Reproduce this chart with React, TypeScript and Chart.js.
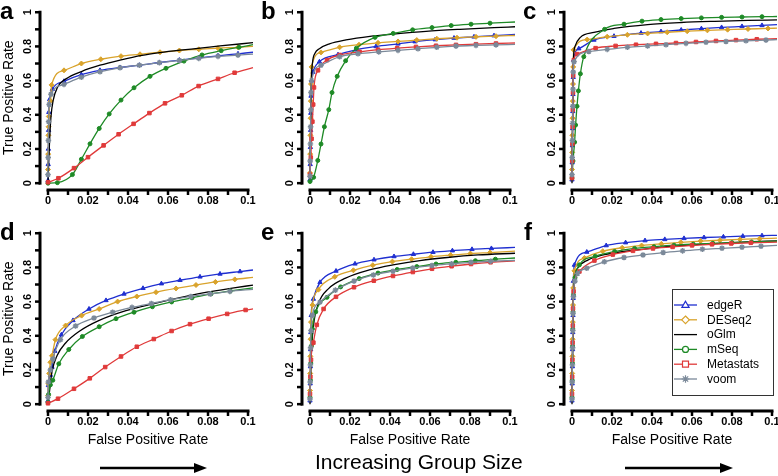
import React, { useEffect, useRef } from 'react';
import { Chart, registerables } from 'chart.js';
Chart.register(...registerables);

// ---------- labels / ticks ----------
const METHODS = ['edgeR', 'DESeq2', 'oGlm', 'mSeq', 'Metastats', 'voom'];
const PANEL_LETTERS = ['a', 'b', 'c', 'd', 'e', 'f'];
const X_TICK_VALUES = [0, 0.01, 0.02, 0.03, 0.04, 0.05, 0.06, 0.07, 0.08, 0.09, 0.1];
const X_LABEL_VALUES = [0, 0.02, 0.04, 0.06, 0.08, 0.1];
const X_LABELS = ['0', '0.02', '0.04', '0.06', '0.08', '0.1'];
const Y_TICK_VALUES = [0, 0.1, 0.2, 0.3, 0.4, 0.5, 0.6, 0.7, 0.8, 0.9, 1];
const Y_LABEL_VALUES = [0, 0.2, 0.4, 0.6, 0.8, 1];
const Y_LABELS = ['0', '0.2', '0.4', '0.6', '0.8', '1'];
const X_TITLE = 'False Positive Rate';
const Y_TITLE = 'True Positive Rate';
const BOTTOM_TEXT = 'Increasing Group Size';

// ---------- data: [FPR, TPR] ----------
// panel a
const A_EDGER = [[0,0.015],[0.0001,0.11],[0.0002,0.2],[0.0003,0.31],[0.0004,0.415],[0.0008,0.49],[0.0022,0.55],[0.008,0.596],[0.0167,0.635],[0.026,0.66],[0.036,0.677],[0.0457,0.69],[0.0557,0.706],[0.0657,0.72],[0.0754,0.733],[0.085,0.745],[0.095,0.757],[0.1025,0.766]];
const A_DESEQ2 = [[0,0.08],[0.0001,0.17],[0.0002,0.28],[0.0003,0.33],[0.0004,0.39],[0.0013,0.48],[0.0018,0.575],[0.008,0.66],[0.0167,0.7],[0.0264,0.725],[0.0365,0.743],[0.046,0.754],[0.056,0.766],[0.0657,0.776],[0.0754,0.783],[0.085,0.79],[0.095,0.795],[0.1025,0.8]];
const A_OGLM = [[0,0],[0.0003,0.1],[0.0008,0.25],[0.0015,0.39],[0.0025,0.48],[0.0047,0.56],[0.009,0.61],[0.0167,0.653],[0.026,0.69],[0.036,0.72],[0.047,0.748],[0.056,0.764],[0.066,0.778],[0.076,0.79],[0.086,0.803],[0.1025,0.822]];
const A_MSEQ = [[0,0],[0.0047,0.003],[0.0122,0.05],[0.0167,0.14],[0.021,0.23],[0.0256,0.32],[0.0306,0.405],[0.0365,0.486],[0.043,0.558],[0.051,0.625],[0.059,0.672],[0.068,0.714],[0.077,0.75],[0.0866,0.775],[0.0955,0.795],[0.1025,0.81]];
const A_METASTATS = [[0,0.005],[0.0052,0.029],[0.013,0.088],[0.02,0.152],[0.0278,0.221],[0.0353,0.286],[0.0428,0.347],[0.0507,0.41],[0.0585,0.467],[0.0669,0.514],[0.0753,0.568],[0.085,0.61],[0.0933,0.646],[0.1025,0.676]];
const A_VOOM = [[0,0.05],[0.0001,0.15],[0.0002,0.25],[0.0003,0.36],[0.0006,0.46],[0.0015,0.52],[0.008,0.578],[0.0167,0.62],[0.026,0.652],[0.036,0.675],[0.0457,0.69],[0.0557,0.705],[0.0657,0.718],[0.0754,0.73],[0.085,0.742],[0.095,0.749],[0.1025,0.755]];
// panel b
const B_EDGER = [[0,0.02],[0.0001,0.11],[0.0002,0.21],[0.0003,0.31],[0.0004,0.41],[0.0005,0.51],[0.0008,0.6],[0.0015,0.65],[0.0047,0.71],[0.014,0.752],[0.023,0.78],[0.033,0.8],[0.044,0.815],[0.0525,0.828],[0.0626,0.84],[0.072,0.849],[0.082,0.856],[0.092,0.863],[0.1025,0.87]];
const B_DESEQ2 = [[0,0.06],[0.0001,0.17],[0.0002,0.28],[0.0003,0.38],[0.0004,0.48],[0.0005,0.58],[0.0008,0.68],[0.0055,0.765],[0.0148,0.795],[0.0245,0.81],[0.034,0.821],[0.044,0.829],[0.0534,0.837],[0.0634,0.845],[0.0735,0.851],[0.083,0.856],[0.093,0.86],[0.1025,0.864]];
const B_OGLM = [[0,0],[0.0003,0.3],[0.0007,0.6],[0.0012,0.7],[0.0025,0.76],[0.0047,0.787],[0.0097,0.815],[0.018,0.838],[0.03,0.859],[0.0416,0.872],[0.058,0.888],[0.075,0.9],[0.092,0.91],[0.1025,0.915]];
const B_MSEQ = [[0,0.01],[0.0018,0.034],[0.0039,0.133],[0.0055,0.229],[0.0072,0.33],[0.0094,0.43],[0.011,0.53],[0.0136,0.625],[0.0178,0.716],[0.0232,0.79],[0.0325,0.853],[0.0416,0.876],[0.0513,0.897],[0.061,0.91],[0.0706,0.922],[0.0805,0.93],[0.09,0.936],[0.1025,0.943]];
const B_METASTATS = [[0,0.05],[0.0004,0.15],[0.0008,0.26],[0.0012,0.36],[0.0016,0.46],[0.002,0.56],[0.004,0.66],[0.0085,0.72],[0.0148,0.75],[0.0248,0.768],[0.034,0.781],[0.0436,0.79],[0.053,0.797],[0.063,0.804],[0.073,0.809],[0.083,0.813],[0.093,0.817],[0.1025,0.82]];
const B_VOOM = [[0,0.04],[0.0001,0.13],[0.0002,0.23],[0.0003,0.33],[0.0004,0.43],[0.0005,0.53],[0.0008,0.6],[0.0055,0.69],[0.0148,0.74],[0.024,0.757],[0.0344,0.768],[0.044,0.777],[0.054,0.786],[0.0634,0.795],[0.073,0.802],[0.083,0.806],[0.093,0.809],[0.1025,0.812]];
// panel c
const C_EDGER = [[0,0.02],[0.0001,0.12],[0.0002,0.22],[0.0003,0.32],[0.0004,0.42],[0.0005,0.52],[0.0006,0.62],[0.0008,0.72],[0.0034,0.787],[0.011,0.838],[0.021,0.86],[0.0345,0.878],[0.0445,0.887],[0.0546,0.896],[0.0647,0.904],[0.0748,0.911],[0.085,0.917],[0.095,0.923],[0.1025,0.928]];
const C_DESEQ2 = [[0,0.08],[0.0001,0.18],[0.0002,0.28],[0.0003,0.38],[0.0004,0.48],[0.0005,0.58],[0.0006,0.68],[0.0008,0.78],[0.0076,0.84],[0.0176,0.857],[0.0277,0.868],[0.0378,0.876],[0.0476,0.883],[0.0576,0.889],[0.0677,0.894],[0.0778,0.898],[0.088,0.902],[0.098,0.905],[0.1025,0.907]];
const C_OGLM = [[0,0],[0.0003,0.4],[0.0007,0.72],[0.0015,0.8],[0.0042,0.853],[0.011,0.882],[0.021,0.905],[0.0378,0.928],[0.0546,0.94],[0.0714,0.947],[0.088,0.952],[0.1025,0.955]];
const C_MSEQ = [[0,0.03],[0.0005,0.13],[0.0013,0.24],[0.0018,0.34],[0.0025,0.45],[0.0032,0.54],[0.0042,0.64],[0.0059,0.74],[0.0163,0.9],[0.026,0.93],[0.035,0.948],[0.0445,0.957],[0.0546,0.963],[0.0647,0.967],[0.0748,0.97],[0.085,0.972],[0.095,0.974],[0.1025,0.975]];
const C_METASTATS = [[0,0.03],[0.0001,0.13],[0.0002,0.23],[0.0003,0.33],[0.0004,0.43],[0.0005,0.53],[0.0006,0.63],[0.0009,0.72],[0.0025,0.755],[0.0118,0.79],[0.0218,0.803],[0.032,0.81],[0.042,0.815],[0.052,0.82],[0.062,0.826],[0.072,0.832],[0.082,0.837],[0.0924,0.842],[0.1025,0.845]];
const C_VOOM = [[0,0.05],[0.0001,0.15],[0.0002,0.25],[0.0003,0.35],[0.0004,0.45],[0.0005,0.55],[0.0006,0.65],[0.001,0.71],[0.0084,0.77],[0.0176,0.783],[0.0277,0.795],[0.0378,0.803],[0.047,0.81],[0.057,0.818],[0.067,0.824],[0.077,0.829],[0.087,0.833],[0.097,0.837],[0.1025,0.84]];
// panel d
const D_EDGER = [[0,0.02],[0.0002,0.11],[0.0012,0.17],[0.002,0.217],[0.0034,0.31],[0.0067,0.406],[0.0125,0.49],[0.0205,0.557],[0.029,0.607],[0.038,0.645],[0.0475,0.678],[0.0567,0.705],[0.066,0.725],[0.076,0.745],[0.086,0.762],[0.096,0.776],[0.1025,0.785]];
const D_DESEQ2 = [[0,0.05],[0.0002,0.12],[0.0006,0.18],[0.0012,0.245],[0.002,0.283],[0.0037,0.377],[0.0088,0.46],[0.0168,0.518],[0.0256,0.557],[0.0348,0.6],[0.0444,0.63],[0.054,0.655],[0.064,0.677],[0.074,0.697],[0.0837,0.715],[0.0934,0.73],[0.1025,0.742]];
const D_OGLM = [[0,0],[0.001,0.1],[0.002,0.19],[0.0045,0.283],[0.0088,0.358],[0.0155,0.425],[0.0256,0.49],[0.039,0.547],[0.0525,0.587],[0.066,0.623],[0.0795,0.655],[0.093,0.68],[0.1025,0.697]];
const D_MSEQ = [[0,0.01],[0.0003,0.057],[0.0012,0.113],[0.0024,0.14],[0.0054,0.236],[0.0104,0.32],[0.0172,0.396],[0.0256,0.453],[0.034,0.5],[0.043,0.538],[0.0522,0.57],[0.0618,0.598],[0.072,0.622],[0.0815,0.645],[0.0912,0.662],[0.1025,0.68]];
const D_METASTATS = [[0,0.005],[0.005,0.032],[0.013,0.09],[0.0209,0.151],[0.0286,0.217],[0.0365,0.279],[0.0444,0.336],[0.0529,0.381],[0.0618,0.428],[0.071,0.468],[0.0803,0.5],[0.0896,0.528],[0.0988,0.551],[0.1025,0.557]];
const D_VOOM = [[0,0.04],[0.0002,0.13],[0.0012,0.2],[0.0024,0.264],[0.0062,0.377],[0.0138,0.457],[0.023,0.504],[0.0323,0.538],[0.042,0.566],[0.0517,0.589],[0.0613,0.611],[0.0714,0.63],[0.0811,0.645],[0.0909,0.66],[0.1025,0.672]];
// panel e
const E_EDGER = [[0,0.02],[0.0001,0.12],[0.0002,0.22],[0.0003,0.32],[0.0004,0.42],[0.0006,0.52],[0.0017,0.615],[0.005,0.713],[0.013,0.779],[0.0225,0.821],[0.032,0.845],[0.042,0.864],[0.0517,0.877],[0.0615,0.889],[0.0712,0.898],[0.081,0.906],[0.0907,0.911],[0.1025,0.917]];
const E_DESEQ2 = [[0,0.08],[0.0001,0.18],[0.0002,0.28],[0.0003,0.38],[0.0005,0.48],[0.0012,0.58],[0.0042,0.67],[0.0124,0.745],[0.0217,0.783],[0.0314,0.813],[0.0412,0.834],[0.0508,0.848],[0.0605,0.862],[0.0703,0.872],[0.0802,0.881],[0.09,0.887],[0.1025,0.895]];
const E_OGLM = [[0,0],[0.0005,0.25],[0.0017,0.455],[0.0042,0.587],[0.0093,0.676],[0.0178,0.737],[0.0297,0.785],[0.0415,0.815],[0.055,0.84],[0.0686,0.858],[0.084,0.873],[0.1025,0.883]];
const E_MSEQ = [[0,0.04],[0.0002,0.14],[0.0004,0.24],[0.0007,0.34],[0.0012,0.44],[0.0029,0.54],[0.0085,0.625],[0.0153,0.686],[0.0246,0.735],[0.034,0.767],[0.0436,0.788],[0.0534,0.805],[0.063,0.82],[0.0729,0.83],[0.0827,0.839],[0.0927,0.848],[0.1025,0.855]];
const E_METASTATS = [[0,0.06],[0.0002,0.16],[0.0005,0.26],[0.0017,0.36],[0.0034,0.464],[0.0068,0.557],[0.013,0.628],[0.022,0.684],[0.0319,0.722],[0.0415,0.75],[0.0514,0.773],[0.061,0.792],[0.0708,0.807],[0.0805,0.82],[0.0903,0.83],[0.1025,0.838]];
const E_VOOM = [[0,0.03],[0.0001,0.13],[0.0002,0.23],[0.0003,0.33],[0.0005,0.43],[0.0012,0.52],[0.005,0.597],[0.0127,0.667],[0.022,0.72],[0.0317,0.756],[0.0415,0.778],[0.0514,0.797],[0.061,0.811],[0.0708,0.821],[0.0805,0.83],[0.0903,0.836],[0.1025,0.841]];
// panel f
const F_EDGER = [[0,0.02],[0.0001,0.12],[0.0002,0.22],[0.0003,0.32],[0.0004,0.42],[0.0005,0.52],[0.0006,0.62],[0.0007,0.72],[0.0012,0.814],[0.0074,0.89],[0.0171,0.928],[0.0268,0.945],[0.0365,0.957],[0.0464,0.964],[0.056,0.97],[0.066,0.975],[0.0757,0.979],[0.0854,0.983],[0.095,0.986],[0.1025,0.988]];
const F_DESEQ2 = [[0,0.08],[0.0001,0.18],[0.0002,0.28],[0.0003,0.38],[0.0004,0.48],[0.0005,0.58],[0.0006,0.68],[0.0012,0.78],[0.0062,0.855],[0.0154,0.895],[0.0251,0.915],[0.0348,0.928],[0.0447,0.938],[0.0544,0.947],[0.0643,0.954],[0.074,0.959],[0.084,0.964],[0.0938,0.968],[0.1025,0.971]];
const F_OGLM = [[0,0],[0.0004,0.4],[0.0009,0.68],[0.0028,0.795],[0.0079,0.843],[0.0162,0.875],[0.028,0.896],[0.0405,0.913],[0.054,0.927],[0.0707,0.939],[0.0874,0.949],[0.1025,0.955]];
const F_MSEQ = [[0,0.04],[0.0001,0.14],[0.0002,0.24],[0.0003,0.34],[0.0004,0.44],[0.0005,0.54],[0.0007,0.64],[0.0015,0.74],[0.0037,0.815],[0.0116,0.865],[0.0213,0.893],[0.0313,0.911],[0.041,0.921],[0.051,0.93],[0.0606,0.936],[0.0704,0.941],[0.08,0.945],[0.0898,0.949],[0.1025,0.953]];
const F_METASTATS = [[0,0.06],[0.0001,0.16],[0.0002,0.26],[0.0003,0.36],[0.0004,0.46],[0.0005,0.56],[0.0008,0.66],[0.0037,0.776],[0.0112,0.84],[0.0204,0.875],[0.0305,0.897],[0.0405,0.911],[0.0503,0.92],[0.06,0.929],[0.07,0.935],[0.0796,0.94],[0.0894,0.944],[0.1025,0.948]];
const F_VOOM = [[0,0.03],[0.0001,0.13],[0.0002,0.23],[0.0003,0.33],[0.0004,0.43],[0.0005,0.53],[0.0007,0.63],[0.0015,0.72],[0.0028,0.765],[0.0074,0.795],[0.0162,0.833],[0.026,0.858],[0.0355,0.873],[0.0456,0.887],[0.0553,0.897],[0.0652,0.906],[0.075,0.912],[0.085,0.918],[0.0945,0.924],[0.1025,0.929]];

const PANEL_DATA = [
  [A_EDGER, A_DESEQ2, A_OGLM, A_MSEQ, A_METASTATS, A_VOOM],
  [B_EDGER, B_DESEQ2, B_OGLM, B_MSEQ, B_METASTATS, B_VOOM],
  [C_EDGER, C_DESEQ2, C_OGLM, C_MSEQ, C_METASTATS, C_VOOM],
  [D_EDGER, D_DESEQ2, D_OGLM, D_MSEQ, D_METASTATS, D_VOOM],
  [E_EDGER, E_DESEQ2, E_OGLM, E_MSEQ, E_METASTATS, E_VOOM],
  [F_EDGER, F_DESEQ2, F_OGLM, F_MSEQ, F_METASTATS, F_VOOM],
];

// ---------- styles ----------
const FONT = "'Liberation Sans', Arial, Helvetica, sans-serif";
const STYLES = [
  { color: '#1f2fd0', point: 'triangle', r: 2.5 },
  { color: '#d9a32c', point: 'rectRot', r: 2.5 },
  { color: '#000000', point: 'circle', r: 0 },
  { color: '#1e8a26', point: 'circle', r: 2.0 },
  { color: '#e03a3a', point: 'rect', r: 2.5 },
  { color: '#7b8999', point: 'star', r: 2.8 },
];

const PANEL_W = 262;
const ROW_H = [221, 255];
const PLOT_BOTTOM = 190;

function drawLegendMarker(ctx: CanvasRenderingContext2D, kind: string, x: number, y: number, color: string) {
  ctx.save();
  ctx.strokeStyle = color;
  ctx.fillStyle = '#fff';
  ctx.lineWidth = 1.2;
  ctx.beginPath();
  if (kind === 'triangle') {
    ctx.moveTo(x, y - 3.8); ctx.lineTo(x + 3.6, y + 2.4); ctx.lineTo(x - 3.6, y + 2.4); ctx.closePath();
    ctx.fill(); ctx.stroke();
  } else if (kind === 'rectRot') {
    ctx.moveTo(x, y - 3.8); ctx.lineTo(x + 3.8, y); ctx.lineTo(x, y + 3.8); ctx.lineTo(x - 3.8, y); ctx.closePath();
    ctx.fill(); ctx.stroke();
  } else if (kind === 'circle') {
    ctx.arc(x, y, 3, 0, Math.PI * 2); ctx.fill(); ctx.stroke();
  } else if (kind === 'rect') {
    ctx.rect(x - 3, y - 3, 6, 6); ctx.fill(); ctx.stroke();
  } else if (kind === 'star') {
    for (let k = 0; k < 4; k++) {
      const a = (k * Math.PI) / 4;
      ctx.moveTo(x - 3.8 * Math.cos(a), y - 3.8 * Math.sin(a));
      ctx.lineTo(x + 3.8 * Math.cos(a), y + 3.8 * Math.sin(a));
    }
    ctx.stroke();
  }
  ctx.restore();
}

const rAxesPlugin = {
  id: 'rAxes',
  afterDraw(chart: any, _args: any, opts: any) {
    const { ctx, chartArea: ca } = chart;
    const xs = chart.scales.x;
    const ys = chart.scales.y;
    ctx.save();
    ctx.strokeStyle = '#000';
    ctx.fillStyle = '#000';
    // y axis
    ctx.lineWidth = 3;
    ctx.lineCap = 'square';
    ctx.beginPath();
    ctx.moveTo(ca.left, ys.getPixelForValue(0));
    ctx.lineTo(ca.left, ys.getPixelForValue(1));
    ctx.stroke();
    ctx.lineCap = 'butt';
    ctx.lineWidth = 2.5;
    for (const v of Y_TICK_VALUES) {
      const py = ys.getPixelForValue(v);
      ctx.beginPath();
      ctx.moveTo(ca.left, py);
      ctx.lineTo(ca.left - 5, py);
      ctx.stroke();
    }
    ctx.font = `bold 11px ${FONT}`;
    ctx.textAlign = 'center';
    ctx.textBaseline = 'middle';
    Y_LABEL_VALUES.forEach((v, i) => {
      const py = ys.getPixelForValue(v);
      ctx.save();
      ctx.translate(ca.left - 12, py);
      ctx.rotate(-Math.PI / 2);
      ctx.fillText(Y_LABELS[i], 0, 0);
      ctx.restore();
    });
    // x axis
    ctx.lineWidth = 3;
    ctx.lineCap = 'square';
    ctx.beginPath();
    ctx.moveTo(xs.getPixelForValue(0), ca.bottom);
    ctx.lineTo(xs.getPixelForValue(0.1), ca.bottom);
    ctx.stroke();
    ctx.lineCap = 'butt';
    ctx.lineWidth = 2.5;
    for (const v of X_TICK_VALUES) {
      const px = xs.getPixelForValue(v);
      ctx.beginPath();
      ctx.moveTo(px, ca.bottom);
      ctx.lineTo(px, ca.bottom + 5);
      ctx.stroke();
    }
    ctx.textBaseline = 'top';
    X_LABEL_VALUES.forEach((v, i) => {
      ctx.fillText(X_LABELS[i], xs.getPixelForValue(v), ca.bottom + 5);
    });
    // titles
    ctx.font = `14px ${FONT}`;
    if (opts.showY) {
      ctx.save();
      ctx.translate(9, (ca.top + ca.bottom) / 2);
      ctx.rotate(-Math.PI / 2);
      ctx.textBaseline = 'middle';
      ctx.fillText(Y_TITLE, 0, 0);
      ctx.restore();
    }
    if (opts.showX) {
      ctx.textBaseline = 'middle';
      ctx.fillText(X_TITLE, (ca.left + ca.right) / 2, ca.bottom + 29);
    }
    // legend
    if (opts.legend) {
      const bx = 148, by = 68, bw = 101, bh = 106;
      ctx.fillStyle = '#fff';
      ctx.fillRect(bx, by, bw, bh);
      ctx.strokeStyle = '#333';
      ctx.lineWidth = 1;
      ctx.strokeRect(bx + 0.5, by + 0.5, bw, bh);
      ctx.font = `12px ${FONT}`;
      ctx.textAlign = 'left';
      ctx.textBaseline = 'middle';
      METHODS.forEach((m, i) => {
        const y = by + 16 + i * 14.8;
        const st = STYLES[i];
        ctx.strokeStyle = st.color;
        ctx.lineWidth = 1.3;
        ctx.beginPath();
        ctx.moveTo(bx + 2, y);
        ctx.lineTo(bx + 25, y);
        ctx.stroke();
        if (st.r > 0) drawLegendMarker(ctx, st.point, bx + 13.5, y, st.color);
        ctx.fillStyle = '#000';
        ctx.fillText(m, bx + 35, y + 0.5);
      });
    }
    ctx.restore();
  },
};

function Panel({ index }: { index: number }) {
  const ref = useRef<HTMLCanvasElement>(null);
  const row = index < 3 ? 0 : 1;
  const col = index % 3;
  const h = ROW_H[row];
  useEffect(() => {
    const datasets = PANEL_DATA[index].map((pts, si) => {
      const st = STYLES[si];
      const n = pts.length;
      return {
        label: METHODS[si],
        data: pts.map((p) => ({ x: p[0], y: p[1] })),
        borderColor: st.color,
        backgroundColor: st.color,
        borderWidth: 1.3,
        pointStyle: st.point,
        pointRadius: (c: any) => (c.dataIndex === n - 1 ? 0 : st.r),
        pointBorderWidth: st.point === 'star' ? 1.4 : 1,
        pointBorderColor: st.color,
        pointBackgroundColor: st.color,
        cubicInterpolationMode: 'monotone',
        fill: false,
        order: 5 - si,
      };
    });
    const chart = new Chart(ref.current as HTMLCanvasElement, {
      type: 'line',
      data: { datasets } as any,
      options: {
        responsive: false,
        animation: false,
        events: [],
        layout: { padding: { left: 40, top: 1, right: 6, bottom: h - PLOT_BOTTOM } },
        scales: {
          x: { type: 'linear', min: -0.004, max: 0.104, display: false },
          y: { type: 'linear', min: -0.04, max: 1.04, display: false },
        },
        plugins: {
          legend: { display: false },
          tooltip: { enabled: false },
          rAxes: { showY: col === 0, showX: row === 1, legend: index === 5 },
        } as any,
      },
      plugins: [rAxesPlugin],
    });
    return () => chart.destroy();
  }, []);
  return (
    <canvas
      ref={ref}
      width={PANEL_W}
      height={h}
      style={{ position: 'absolute', left: col * PANEL_W, top: row * ROW_H[0], width: PANEL_W, height: h }}
    />
  );
}

export default function App() {
  const letterPos = [
    [0, 0], [261, 0], [523, 0],
    [0, 221], [261, 221], [524, 221],
  ];
  return (
    <div style={{ position: 'fixed', left: 0, top: 0, width: 778, height: 476, overflow: 'hidden', background: '#fff' }}>
      {[0, 1, 2, 3, 4, 5].map((i) => <Panel key={i} index={i} />)}
      {PANEL_LETTERS.map((l, i) => (
        <div
          key={l}
          style={{
            position: 'absolute', left: letterPos[i][0], top: letterPos[i][1] - 1,
            font: `bold 24px ${FONT}`, lineHeight: '24px', color: '#000',
          }}
        >
          {l}
        </div>
      ))}
      <div
        style={{
          position: 'absolute', left: 315, top: 450, font: `21px ${FONT}`, lineHeight: '24px', color: '#000', whiteSpace: 'nowrap',
        }}
      >
        {BOTTOM_TEXT}
      </div>
      <svg width={778} height={476} style={{ position: 'absolute', left: 0, top: 0, pointerEvents: 'none' }}>
        <line x1={100} y1={468} x2={195} y2={468} stroke="#000" strokeWidth={2.5} />
        <polygon points="207,468 194,463 194,473" fill="#000" />
        <line x1={625} y1={468} x2={721} y2={468} stroke="#000" strokeWidth={2.5} />
        <polygon points="733,468 720,463 720,473" fill="#000" />
      </svg>
    </div>
  );
}
